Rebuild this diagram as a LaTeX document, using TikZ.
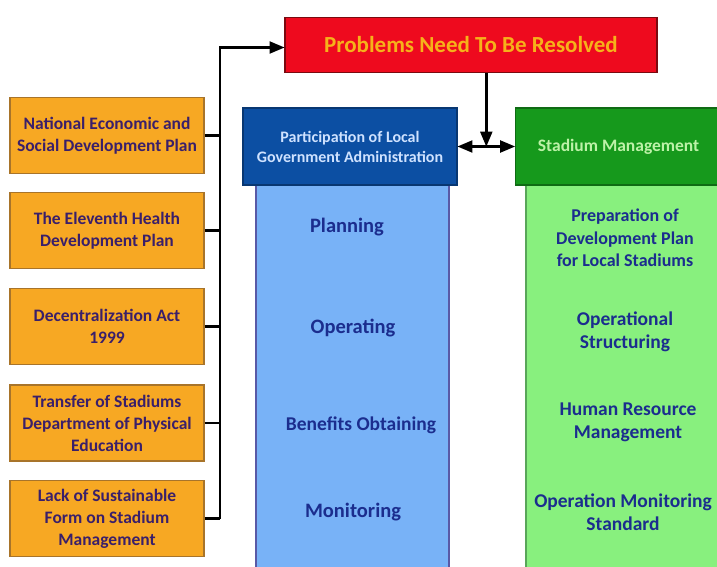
\documentclass[tikz,border=0pt]{standalone}
\usepackage{fontspec}
\setmainfont{Carlito}
\usepackage{tikz}
\usetikzlibrary{arrows}
\usetikzlibrary{positioning, calc}

\definecolor{orangefill}{HTML}{F7A823}
\definecolor{orangeline}{HTML}{A8742A}
\definecolor{purpletext}{HTML}{3A1F6A}
\definecolor{redfill}{HTML}{EE0A1E}
\definecolor{redline}{HTML}{7A0A10}
\definecolor{redtext}{HTML}{F6B21A}
\definecolor{bluehead}{HTML}{0C4FA3}
\definecolor{bluebody}{HTML}{78B2F7}
\definecolor{bluetext}{HTML}{CFE2FF}
\definecolor{greenhead}{HTML}{16991C}
\definecolor{greenbody}{HTML}{88F07E}
\definecolor{greentext}{HTML}{BDF2A8}
\definecolor{bodytext}{HTML}{1B2D8E}

\tikzset{
  cause/.style={draw=orangeline, fill=orangefill, line width=1.2pt, minimum width=194pt, minimum height=76pt, align=center, text=purpletext, font=\bfseries\fontsize{17.5}{22}\selectfont},
  head/.style={line width=1.2pt, minimum height=77pt, align=center, font=\bfseries\fontsize{16}{20}\selectfont},
  body/.style={line width=1.2pt, minimum height=400pt, anchor=north},
  item/.style={align=center, text=bodytext, font=\bfseries\fontsize{19.5}{23}\selectfont},
  link/.style={line width=2.5pt},
}

\begin{document}
\begin{tikzpicture}[x=1pt, y=-1pt]
      \clip (0, 0) rectangle (717, 567);
      \fill[white] (0, 0) rectangle (717, 567);

      % causes on the left
      \node[cause] (plan) at (107, 135.5) {National Economic and\\Social Development Plan};
      \node[cause] (health) at (107, 230.5) {The Eleventh Health\\Development Plan};
      \node[cause] (act) at (107, 326.5) {Decentralization Act\\1999};
      \node[cause] (transfer) at (107, 423) {Transfer of Stadiums\\Department of Physical\\Education};
      \node[cause] (lack) at (107, 518.5) {Lack of Sustainable\\Form on Stadium\\Management};

      \node[draw=redline, fill=redfill, line width=1.2pt, minimum width=372pt, minimum height=55pt, text=redtext, font=\bfseries\fontsize{23}{26}\selectfont] (problems) at (471, 45) {Problems Need To Be Resolved};

      % two columns
      \node[body, draw=gray!70!blue, fill=bluebody, minimum width=193pt] (localbody) at (352.5, 185) {};
      \node[body, draw=gray!70!green, fill=greenbody, minimum width=200pt] (stadiumbody) at (626, 185) {};
      \node[head, draw=bluehead!70!black, fill=bluehead, text=bluetext, minimum width=214pt] (local) at (350, 146.5) {Participation of Local\\Government Administration};
      \node[head, draw=greenhead!70!black, fill=greenhead, text=greentext, minimum width=210pt, anchor=west, font=\bfseries\fontsize{17.5}{20}\selectfont] (stadium) at (515, 146.5) {\hspace*{2pt}Stadium Management\hspace*{6pt}};

      \node[item, font=\bfseries\fontsize{20.5}{23}\selectfont] (planning) at (347, 227) {Planning};
      \node[item, font=\bfseries\fontsize{20.5}{23}\selectfont] (operating) at (353, 328) {Operating};
      \node[item] (benefits) at (361, 425) {Benefits Obtaining};
      \node[item, font=\bfseries\fontsize{20.5}{23}\selectfont] (monitoring) at (353, 512) {Monitoring};

      \node[item, font=\bfseries\fontsize{18}{22.5}\selectfont] (preparation) at (625, 238) {Preparation of\\Development Plan\\for Local Stadiums};
      \node[item] (structuring) at (625, 332) {Operational\\Structuring};
      \node[item] (resource) at (628, 422) {Human Resource\\Management};
      \node[item] (standard) at (623, 512) {Operation Monitoring\\Standard};

      % connectors
      \coordinate (spine) at (220, 47.5);
      \foreach \c in {plan, health, act, transfer, lack}
        \draw[link] (\c.east) -- (\c.east -| spine);
      \draw[link, -triangle 45] (lack.east -| spine) -- (spine) -- (problems.west |- spine);

      \coordinate (meet) at ($(local.east)!0.5!(stadium.west)$);
      \draw[link, triangle 45-triangle 45] (local.east) -- (stadium.west);
      \draw[link, -triangle 45] (problems.south -| meet) -- (meet);

    \end{tikzpicture}
\end{document}
